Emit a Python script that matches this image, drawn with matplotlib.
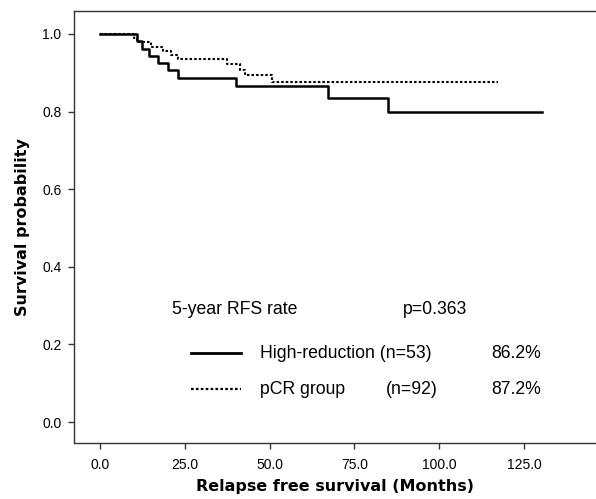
import numpy as np
import matplotlib.pyplot as plt

plt.rcParams['font.family'] = ['Liberation Sans', 'DejaVu Sans']

# Kaplan-Meier step points (months, survival probability)
hr_time = [0, 11, 12.5, 14.5, 17, 20, 23, 40, 67.3, 84.8, 130.2]
hr_surv = [1.0, 0.981, 0.962, 0.943, 0.925, 0.906, 0.887, 0.867, 0.834, 0.800, 0.800]

pcr_time = [0, 10, 11, 15, 18.5, 21, 23, 37.3, 41.3, 42.7, 50.6, 117.4]
pcr_surv = [1.0, 0.989, 0.978, 0.967, 0.957, 0.946, 0.935, 0.922, 0.907, 0.894, 0.875, 0.875]

groups = ["High-reduction", "pCR group"]
group_n = ["(n=53)", "(n=92)"]
rfs_rate = ["86.2%", "87.2%"]
p_value = "p=0.363"

fig = plt.figure(figsize=(5.96, 4.99), dpi=100)
ax = fig.add_axes([74 / 596, 56 / 499, 1 - 74 / 596, (443 - 11) / 499])

ax.step(hr_time, hr_surv, where='post', color='black', lw=1.8)
ax.step(pcr_time, pcr_surv, where='post', color='black', lw=1.5,
        linestyle=(0, (1.2, 1.0)))

ax.set_xlim(-7.67, 146.2)
ax.set_ylim(-0.054, 1.059)

xt = [0, 25, 50, 75, 100, 125]
ax.set_xticks(xt)
ax.set_xticklabels([f"{v:.1f}" for v in xt])
yt = [0.0, 0.2, 0.4, 0.6, 0.8, 1.0]
ax.set_yticks(yt)
ax.set_yticklabels([f"{v:.1f}" for v in yt])
ax.tick_params(axis='x', pad=7)
ax.tick_params(direction='out', length=4, width=1, labelsize=10,
               color='#333333')
ax.tick_params(axis='y', pad=5)

for side in ['top', 'left', 'bottom']:
    ax.spines[side].set_color('#333333')
    ax.spines[side].set_linewidth(1.0)
ax.spines['right'].set_visible(False)

ax.set_xlabel("Relapse free survival (Months)", fontsize=11.5,
              fontweight='bold', family='DejaVu Sans', labelpad=5)
ax.set_ylabel("Survival probability", fontsize=11.5, fontweight='bold',
              family='DejaVu Sans', labelpad=9)

# annotation block inside the plot
fs = 12.7
ax.text(21.1, 0.291, "5-year RFS rate", fontsize=fs, va='center')
ax.text(89.2, 0.291, p_value, fontsize=fs, va='center')

ax.plot([26.7, 41.7], [0.177, 0.177], color='black', lw=2.0)
ax.plot([26.7, 41.7], [0.084, 0.084], color='black', lw=1.6,
        linestyle=(0, (1.2, 1.0)))

ax.text(47.2, 0.177, groups[0] + " " + group_n[0], fontsize=fs, va='center')
ax.text(115.2, 0.177, rfs_rate[0], fontsize=fs, va='center')
ax.text(47.2, 0.084, groups[1], fontsize=fs, va='center')
ax.text(84.3, 0.084, group_n[1], fontsize=fs, va='center')
ax.text(115.2, 0.084, rfs_rate[1], fontsize=fs, va='center')

fig.savefig("out.png", dpi=100)
